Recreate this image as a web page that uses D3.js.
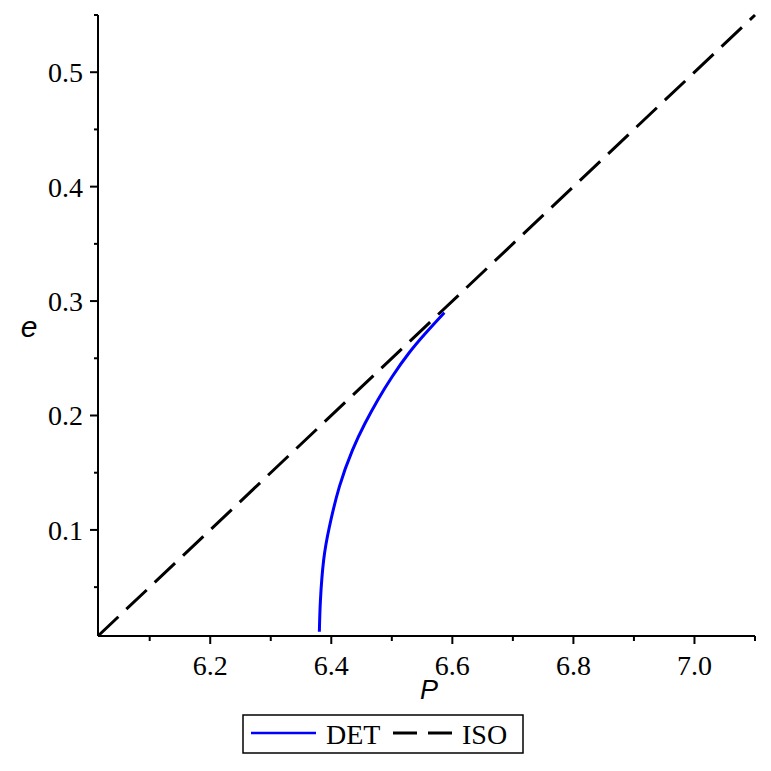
<!DOCTYPE html>
<html>
<head>
<meta charset="utf-8">
<script src="https://cdn.jsdelivr.net/npm/d3@7"></script>
<style>
  body { margin: 0; background: #fff; }
</style>
</head>
<body>
<div id="chart"></div>
<script>
// DET curve (P, e)
const detP = [6.3803, 6.3821, 6.3874, 6.3969, 6.4134, 6.4350, 6.4558, 6.4766, 6.5005, 6.5280, 6.5557, 6.5868];
const detE = [0.011, 0.0387, 0.0737, 0.1028, 0.1378, 0.1698, 0.1932, 0.2134, 0.2339, 0.2544, 0.2719, 0.2899];

// ISO line end points
const isoP = [6.0146, 7.1];
const isoE = [0.0073, 0.55];

const xTicks = [6.2, 6.4, 6.6, 6.8, 7.0];
const xMinor = [6.1, 6.3, 6.5, 6.7, 6.9, 7.1];
const yTicks = [0.1, 0.2, 0.3, 0.4, 0.5];
const yMinor = [0.05, 0.15, 0.25, 0.35, 0.45, 0.55];

const width = 771, height = 771;
const plotLeft = 98, plotRight = 755, plotTop = 15, plotBottom = 636;

const svg = d3.select("#chart")
  .append("svg")
  .attr("width", width)
  .attr("height", height);

const x = d3.scaleLinear().domain([6.0146, 7.1]).range([plotLeft, plotRight]);
const y = d3.scaleLinear().domain([0.0073, 0.55]).range([plotBottom, plotTop]);

const serif = "'Liberation Serif', 'Times New Roman', serif";
const sans = "'Liberation Sans', Arial, sans-serif";

// x axis
const xAxis = svg.append("g").attr("transform", `translate(0,${plotBottom})`);
xAxis.append("line")
  .attr("x1", plotLeft).attr("x2", plotRight)
  .attr("stroke", "#000").attr("stroke-width", 2);
xAxis.selectAll(".major").data(xTicks).enter().append("line")
  .attr("x1", d => x(d)).attr("x2", d => x(d))
  .attr("y1", 0).attr("y2", 8)
  .attr("stroke", "#000").attr("stroke-width", 2);
xAxis.selectAll(".minor").data(xMinor).enter().append("line")
  .attr("x1", d => x(d)).attr("x2", d => x(d))
  .attr("y1", 0).attr("y2", 5)
  .attr("stroke", "#000").attr("stroke-width", 2);
xAxis.selectAll("text").data(xTicks).enter().append("text")
  .attr("x", d => x(d)).attr("y", 39)
  .attr("text-anchor", "middle")
  .style("font-family", serif).style("font-size", "28px")
  .text(d => d.toFixed(1));

// y axis
const yAxis = svg.append("g").attr("transform", `translate(${plotLeft},0)`);
yAxis.append("line")
  .attr("y1", plotTop).attr("y2", plotBottom)
  .attr("stroke", "#000").attr("stroke-width", 2);
yAxis.selectAll(".major").data(yTicks).enter().append("line")
  .attr("y1", d => y(d)).attr("y2", d => y(d))
  .attr("x1", 0).attr("x2", -8)
  .attr("stroke", "#000").attr("stroke-width", 2);
yAxis.selectAll(".minor").data(yMinor).enter().append("line")
  .attr("y1", d => y(d)).attr("y2", d => y(d))
  .attr("x1", 0).attr("x2", -4)
  .attr("stroke", "#000").attr("stroke-width", 2);
yAxis.selectAll("text").data(yTicks).enter().append("text")
  .attr("x", -15).attr("y", d => y(d) + 10)
  .attr("text-anchor", "end")
  .style("font-family", serif).style("font-size", "28px")
  .text(d => d.toFixed(1));

// axis labels
svg.append("text")
  .attr("x", 429).attr("y", 699)
  .attr("text-anchor", "middle")
  .style("font-family", sans).style("font-style", "italic").style("font-size", "27px")
  .text("P");
svg.append("text")
  .attr("x", 29).attr("y", 337)
  .attr("text-anchor", "middle")
  .style("font-family", sans).style("font-style", "italic").style("font-size", "30px")
  .text("e");

const line = d3.line().x(d => x(d[0])).y(d => y(d[1]));

// ISO dashed line
svg.append("path")
  .datum(d3.zip(isoP, isoE))
  .attr("d", line)
  .attr("fill", "none")
  .attr("stroke", "#000")
  .attr("stroke-width", 3)
  .attr("stroke-dasharray", "28,11");

// DET curve
svg.append("path")
  .datum(d3.zip(detP, detE))
  .attr("d", line.curve(d3.curveNatural))
  .attr("fill", "none")
  .attr("stroke", "#0000ff")
  .attr("stroke-width", 3);

// legend
const legend = svg.append("g");
legend.append("rect")
  .attr("x", 243).attr("y", 715)
  .attr("width", 280).attr("height", 38)
  .attr("fill", "#fff").attr("stroke", "#000").attr("stroke-width", 1.5);
legend.append("line")
  .attr("x1", 251).attr("x2", 316).attr("y1", 733).attr("y2", 733)
  .attr("stroke", "#0000ff").attr("stroke-width", 2.5);
legend.append("text")
  .attr("x", 326).attr("y", 744)
  .style("font-family", serif).style("font-size", "28px")
  .text("DET");
legend.append("line")
  .attr("x1", 393).attr("x2", 452).attr("y1", 733).attr("y2", 733)
  .attr("stroke", "#000").attr("stroke-width", 3)
  .attr("stroke-dasharray", "24,11");
legend.append("text")
  .attr("x", 462).attr("y", 744)
  .style("font-family", serif).style("font-size", "28px")
  .text("ISO");
</script>
</body>
</html>
